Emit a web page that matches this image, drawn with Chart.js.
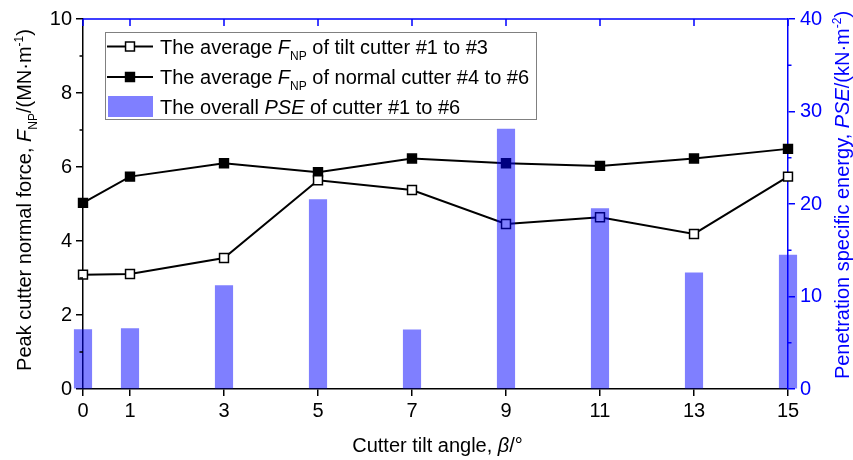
<!DOCTYPE html>
<html>
<head>
<meta charset="utf-8">
<title>Cutter tilt angle vs. normal force and PSE</title>
<script src="https://cdn.jsdelivr.net/npm/chart.js@4.4.1/dist/chart.umd.min.js"></script>
<style>
  html, body { margin: 0; padding: 0; background: #fff; }
  #wrap { width: 853px; height: 460px; position: relative; }
</style>
</head>
<body>
<div id="wrap"><canvas id="chart"></canvas></div>
<script>
// Cutter tilt angle (degrees)
const tiltAngles = [0, 1, 3, 5, 7, 9, 11, 13, 15];
// Tick labels on the angle axis
const angleTicks = [0, 1, 3, 5, 7, 9, 11, 13, 15];
// Average peak normal force of tilt cutters #1-#3 (MN/m)
const fnpTilt = [3.09, 3.11, 3.54, 5.64, 5.38, 4.46, 4.64, 4.19, 5.74];
// Average peak normal force of normal cutters #4-#6 (MN/m)
const fnpNormal = [5.03, 5.74, 6.10, 5.86, 6.23, 6.10, 6.03, 6.23, 6.49];
// Overall penetration specific energy of cutters #1-#6 (kN/m^2)
const pseOverall = [6.43, 6.54, 11.19, 20.49, 6.40, 28.10, 19.50, 12.56, 14.47];
// Axis tick values
const forceTicks = [0, 2, 4, 6, 8, 10];
const forceMinorTicks = [1, 3, 5, 7, 9];
const pseTicks = [0, 10, 20, 30, 40];
const pseMinorTicks = [5, 15, 25, 35];

const FONT = '"Liberation Sans", Arial, Helvetica, sans-serif';
const BLUE = '#0000ff';
const BAR_FILL = 'rgba(0, 0, 255, 0.5)';
const MARKER_R = 6.3;

function runFont(r, size) {
  const s = r.s ? Math.round(size * 0.62) : size;
  return (r.i ? 'italic ' : '') + s + 'px ' + FONT;
}
// Draws a run of mixed text (italic, subscript, superscript) on one baseline
function drawRich(ctx, runs, x, y, size, color, align) {
  ctx.save();
  ctx.fillStyle = color;
  ctx.textBaseline = 'alphabetic';
  ctx.textAlign = 'left';
  let total = 0;
  runs.forEach(r => { ctx.font = runFont(r, size); r.w = ctx.measureText(r.t).width; total += r.w; });
  let cx = align === 'center' ? x - total / 2 : x;
  runs.forEach(r => {
    ctx.font = runFont(r, size);
    const dy = r.s === 'sub' ? size * 0.3 : r.s === 'sup' ? -size * 0.42 : 0;
    ctx.fillText(r.t, cx, y + dy);
    cx += r.w;
  });
  ctx.restore();
}

function squareMarker(ctx, x, y, fill) {
  const h = MARKER_R * Math.SQRT1_2;
  ctx.save();
  ctx.fillStyle = fill;
  ctx.strokeStyle = '#000';
  ctx.lineWidth = 1.5;
  ctx.beginPath();
  ctx.rect(x - h, y - h, 2 * h, 2 * h);
  ctx.fill();
  ctx.stroke();
  ctx.restore();
}

const framePlugin = {
  id: 'frame',
  afterDraw(chart) {
    const { ctx, chartArea: a, scales } = chart;
    const xs = scales.x, yl = scales.y, yr = scales.y2;
    ctx.save();
    // top frame line with inward ticks
    ctx.strokeStyle = BLUE;
    ctx.lineWidth = 1.5;
    ctx.beginPath();
    ctx.moveTo(a.left, a.top);
    ctx.lineTo(a.right, a.top);
    angleTicks.forEach(v => {
      const px = xs.getPixelForValue(v);
      ctx.moveTo(px, a.top);
      ctx.lineTo(px, a.top + 7);
    });
    ctx.stroke();
    // minor ticks
    ctx.strokeStyle = '#000';
    ctx.beginPath();
    forceMinorTicks.forEach(v => {
      const py = yl.getPixelForValue(v);
      ctx.moveTo(a.left - 3.5, py);
      ctx.lineTo(a.left, py);
    });
    ctx.stroke();
    ctx.strokeStyle = BLUE;
    ctx.beginPath();
    pseMinorTicks.forEach(v => {
      const py = yr.getPixelForValue(v);
      ctx.moveTo(a.right, py);
      ctx.lineTo(a.right + 3.5, py);
    });
    ctx.stroke();
    ctx.restore();

    // axis titles
    const cxPlot = (a.left + a.right) / 2;
    drawRich(ctx, [{ t: 'Cutter tilt angle, ' }, { t: 'β', i: 1 }, { t: '/°' }], cxPlot + 2, 452, 20, '#000', 'center');

    ctx.save();
    ctx.translate(31, 200);
    ctx.rotate(-Math.PI / 2);
    drawRich(ctx, [
      { t: 'Peak cutter normal force, ' }, { t: 'F', i: 1 }, { t: 'NP', s: 'sub' },
      { t: '/(MN·m' }, { t: '-1', s: 'sup' }, { t: ')' }
    ], 0, 0, 20, '#000', 'center');
    ctx.restore();

    ctx.save();
    ctx.translate(849, 195);
    ctx.rotate(-Math.PI / 2);
    drawRich(ctx, [
      { t: 'Penetration specific energy, ' }, { t: 'PSE', i: 1 },
      { t: '/(kN·m' }, { t: '-2', s: 'sup' }, { t: ')' }
    ], 0, 0, 20, BLUE, 'center');
    ctx.restore();

    // legend
    const lx = 105, ly = 32, lw = 431, lh = 87;
    ctx.save();
    ctx.fillStyle = '#fff';
    ctx.fillRect(lx, ly, lw, lh);
    ctx.strokeStyle = '#808080';
    ctx.lineWidth = 1;
    ctx.strokeRect(lx + 0.5, ly + 0.5, lw, lh);
    const rows = [46.5, 77, 106.5];
    ctx.strokeStyle = '#000';
    ctx.lineWidth = 2;
    [0, 1].forEach(k => {
      ctx.beginPath();
      ctx.moveTo(107, rows[k]);
      ctx.lineTo(153, rows[k]);
      ctx.stroke();
    });
    ctx.restore();
    squareMarker(ctx, 130, rows[0], '#fff');
    squareMarker(ctx, 130, rows[1], '#000');
    ctx.save();
    ctx.fillStyle = BAR_FILL;
    ctx.fillRect(108, 96, 45, 21);
    ctx.restore();
    drawRich(ctx, [{ t: 'The average ' }, { t: 'F', i: 1 }, { t: 'NP', s: 'sub' }, { t: ' of tilt cutter #1 to #3' }], 160, rows[0] + 7, 20, '#000', 'left');
    drawRich(ctx, [{ t: 'The average ' }, { t: 'F', i: 1 }, { t: 'NP', s: 'sub' }, { t: ' of normal cutter #4 to #6' }], 160, rows[1] + 7, 20, '#000', 'left');
    drawRich(ctx, [{ t: 'The overall ' }, { t: 'PSE', i: 1 }, { t: ' of cutter #1 to #6' }], 160, rows[2] + 7, 20, '#000', 'left');
  }
};

const toPoints = ys => tiltAngles.map((x, i) => ({ x, y: ys[i] }));
const tickFont = { family: FONT, size: 20 };

new Chart(document.getElementById('chart'), {
  type: 'line',
  data: {
    datasets: [
      {
        type: 'bar',
        label: 'The overall PSE of cutter #1 to #6',
        data: toPoints(pseOverall),
        yAxisID: 'y2',
        backgroundColor: BAR_FILL,
        borderWidth: 0,
        barThickness: 17.5,
        clip: false,
        order: 0
      },
      {
        type: 'line',
        label: 'The average FNP of tilt cutter #1 to #3',
        data: toPoints(fnpTilt),
        yAxisID: 'y',
        borderColor: '#000',
        borderWidth: 2,
        pointStyle: 'rect',
        pointRadius: MARKER_R,
        pointBackgroundColor: '#fff',
        pointBorderColor: '#000',
        pointBorderWidth: 1.5,
        tension: 0,
        clip: false,
        order: 1
      },
      {
        type: 'line',
        label: 'The average FNP of normal cutter #4 to #6',
        data: toPoints(fnpNormal),
        yAxisID: 'y',
        borderColor: '#000',
        borderWidth: 2,
        pointStyle: 'rect',
        pointRadius: MARKER_R,
        pointBackgroundColor: '#000',
        pointBorderColor: '#000',
        pointBorderWidth: 1.5,
        tension: 0,
        clip: false,
        order: 2
      }
    ]
  },
  options: {
    responsive: true,
    maintainAspectRatio: false,
    animation: false,
    layout: { padding: { top: 19, left: 0, right: 0, bottom: 0 } },
    plugins: { legend: { display: false }, tooltip: { enabled: false } },
    scales: {
      x: {
        type: 'linear',
        position: 'bottom',
        offset: false,
        min: 0,
        max: 15,
        afterBuildTicks: s => { s.ticks = angleTicks.map(v => ({ value: v })); },
        afterFit: s => { s.height = 71; },
        grid: { offset: false, drawOnChartArea: false, drawTicks: true, tickLength: 7, color: '#000', lineWidth: 1.5 },
        border: { color: '#000', width: 1.5 },
        ticks: { font: tickFont, color: '#000', padding: 3, maxRotation: 0, autoSkip: false }
      },
      y: {
        position: 'left',
        min: 0,
        max: 10,
        afterBuildTicks: s => { s.ticks = forceTicks.map(v => ({ value: v })); },
        afterFit: s => { s.width = 83; },
        grid: { drawOnChartArea: false, drawTicks: true, tickLength: 7, color: '#000', lineWidth: 1.5 },
        border: { color: '#000', width: 1.5 },
        ticks: { font: tickFont, color: '#000', padding: 4 }
      },
      y2: {
        position: 'right',
        min: 0,
        max: 40,
        afterBuildTicks: s => { s.ticks = pseTicks.map(v => ({ value: v })); },
        afterFit: s => { s.width = 65; },
        grid: { drawOnChartArea: false, drawTicks: true, tickLength: 7, color: BLUE, lineWidth: 1.5 },
        border: { color: BLUE, width: 1.5 },
        ticks: { font: tickFont, color: BLUE, padding: 5 }
      }
    }
  },
  plugins: [framePlugin]
});
</script>
</body>
</html>
